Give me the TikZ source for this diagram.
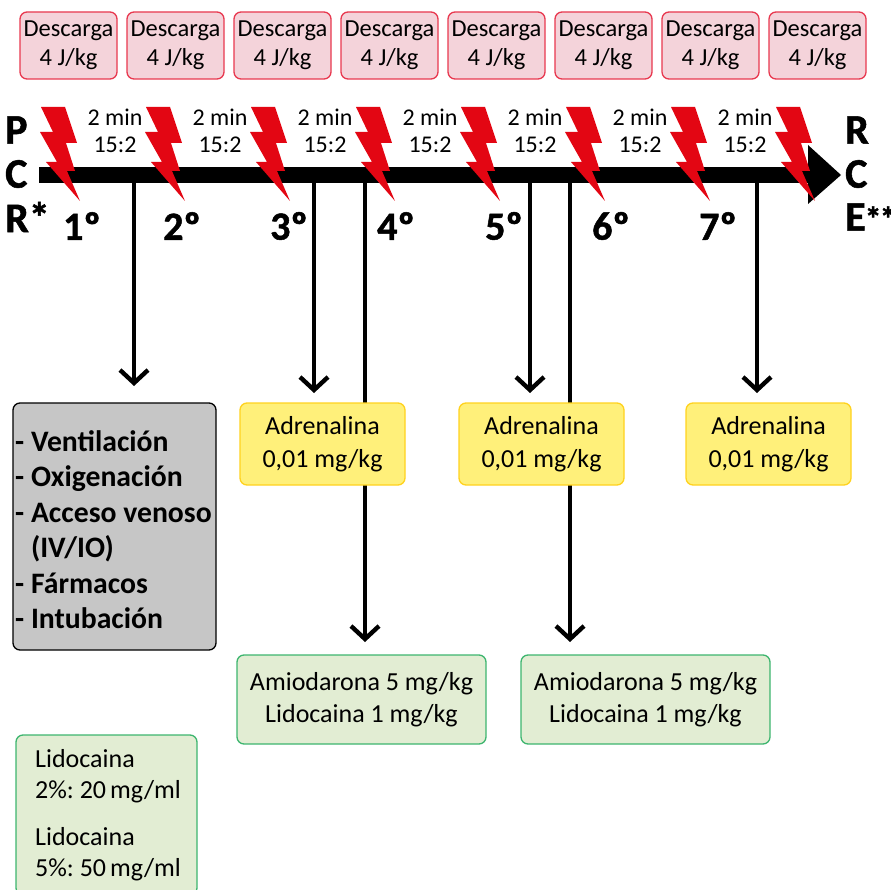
\documentclass[tikz,border=0pt]{standalone}
\usepackage{fontspec}
\setmainfont{Carlito}
\newfontfamily\heavyfont[BoldFeatures={FakeBold=1.2}]{Carlito}
\usetikzlibrary{arrows.meta,backgrounds}
\definecolor{redbolt}{HTML}{E30613}
\definecolor{pinkfill}{HTML}{F4D3DA}
\definecolor{pinkline}{HTML}{E8384F}
\definecolor{yellowfill}{HTML}{FFF07A}
\definecolor{yellowline}{HTML}{FFD21E}
\definecolor{greenfill}{HTML}{E2EDD3}
\definecolor{greenline}{HTML}{3DB56F}
\definecolor{grayfill}{HTML}{C6C6C6}
\newcommand{\tightwords}{\spaceskip 3.9pt\relax}
\tikzset{
  x=1pt,y=-1pt,
  base box/.style={rounded corners=7pt,line width=1.3pt,align=center,inner sep=0pt,outer sep=0pt,anchor=north west},
  shock box/.style={base box,draw=pinkline,fill=pinkfill,minimum width=97pt,minimum height=67pt,font=\fontsize{24.5}{28.5}\selectfont},
  adren box/.style={base box,draw=yellowline,fill=yellowfill,minimum width=165pt,minimum height=82pt,font=\fontsize{26}{33.5}\selectfont},
  drug box/.style={base box,draw=greenline,fill=greenfill,minimum width=249pt,minimum height=89pt,font=\fontsize{26}{32}\selectfont},
  timing/.style={align=center,inner sep=0pt,font=\fontsize{24}{27}\selectfont},
  big letter/.style={inner sep=0pt,font=\fontsize{42}{42}\selectfont\heavyfont\bfseries},
  ordinal/.style={inner sep=0pt,font=\fontsize{40}{40}\selectfont\heavyfont\bfseries},
  bolt/.style={fill=redbolt,draw=none},
  drop/.style={line width=4.4pt,-{Straight Barb[length=13pt,width=28pt,line width=4.4pt]}},
}
\newcommand{\lightning}[1]{%
  \fill[bolt,shift={(#1,0)}] (41,107)--(65,107)--(77,143)--(66,143)--(75,171)--(67,171)--(80,201)--(46,162)--(57,162)--(40,132)--(53,132)--cycle;}
\begin{document}
\begin{tikzpicture}
\useasboundingbox (0,0) rectangle (890,890);
% main bar
\coordinate (barstart) at (39,175);
\coordinate (barend) at (809,175);
\draw[line width=16pt] (barstart) -- (barend);
\fill (808,145) -- (841,175) -- (808,204) -- cycle;
% boxes
\foreach \i/\x in {1/20,2/127,3/234,4/341,5/448,6/555,7/662,8/769}
  \node[shock box] (shock\i) at (\x,12) {Descarga\\4 J/kg};
\node[adren box] (adr1) at (240,403) {Adrenalina\\0,01 mg/kg};
\node[adren box] (adr2) at (459,403) {Adrenalina\\0,01 mg/kg};
\node[adren box] (adr3) at (686,403) {Adrenalina\\0,01 mg/kg};
\node[drug box] (ami1) at (237,655) {Amiodarona 5 mg/kg\\Lidocaina 1 mg/kg};
\node[drug box] (ami2) at (521,655) {Amiodarona 5 mg/kg\\Lidocaina 1 mg/kg};
\node[base box,draw=black,fill=grayfill,minimum width=203pt,minimum height=247pt] (gray) at (13,403) {};
\node[anchor=north west,inner sep=0pt,align=left,font=\fontsize{29.7}{35.5}\selectfont\bfseries] (graytext) at (15,430)
  {- Ventilación\\- Oxigenación\\- Acceso venoso\\\phantom{- }(IV/IO)\\- Fármacos\\- Intubación};
\node[base box,draw=greenline,fill=greenfill,minimum width=181pt,minimum height=160pt] (lido) at (16,735) {};
\node[anchor=north west,inner sep=0pt,align=left,font=\fontsize{26}{31}\selectfont\tightwords] (lidotext) at (35,749)
  {Lidocaina\\2\%: 20 mg/ml\\[16pt]Lidocaina\\5\%: 50 mg/ml};
% connectors, behind the boxes
\foreach \n/\x/\y in {a/134/386,b/314/393,c/365/642,d/530/393,e/570/642,f/757/393}{
  \coordinate (top\n) at (\x,175);
  \coordinate (tip\n) at (\x,\y);
}
\begin{scope}[on background layer]
\foreach \n in {a,b,c,d,e,f}
  \draw[drop] (top\n) -- (tip\n);
\end{scope}
% bolts
\foreach \k in {0,...,7}{\lightning{105*\k}}
% timing
\foreach \i/\x in {1/115,2/220,3/325,4/430,5/535,6/640,7/745}
  \node[timing] (t\i) at (\x,131) {2 min\\15:2};
% letters
\node[big letter,anchor=west] (p) at (5,130) {P};
\node[big letter,anchor=west] (c) at (5,174) {C};
\node[big letter,anchor=west] (r) at (5,217) {R*};
\node[big letter,anchor=west] (r2) at (845,130) {R};
\node[big letter,anchor=west] (c2) at (845,174) {C};
\node[big letter,anchor=west] (e2) at (845,217) {E\kern-1pt\fontsize{34}{34}\selectfont*\kern-2pt*};
\foreach \i/\x in {1/82,2/182,3/289,4/396,5/504,6/611,7/718}
  \node[ordinal] (o\i) at (\x,226) {\i º};
\end{tikzpicture}
\end{document}
